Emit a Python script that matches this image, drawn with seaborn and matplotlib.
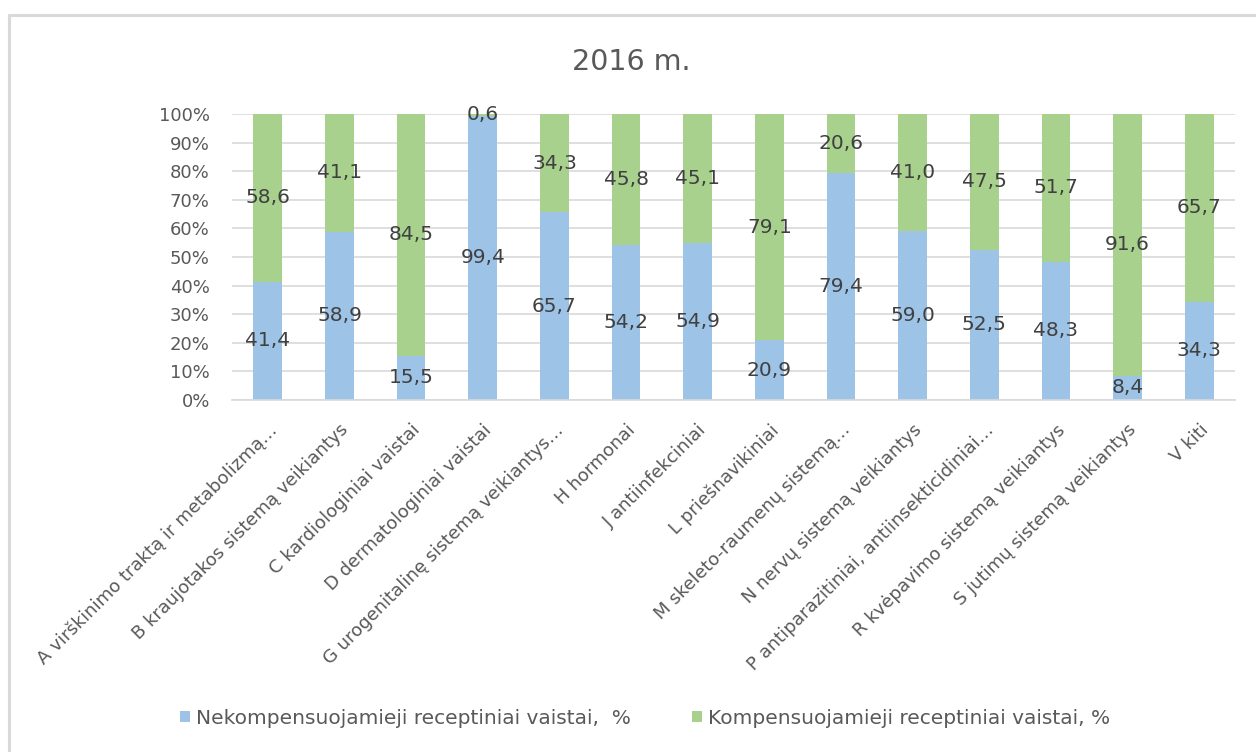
import matplotlib
matplotlib.use("Agg")
import matplotlib.pyplot as plt
import seaborn as sns
import pandas as pd
from matplotlib.patches import Patch
from matplotlib.lines import Line2D

categories = [
    "A virškinimo traktą ir metabolizmą…",
    "B kraujotakos sistemą veikiantys",
    "C kardiologiniai vaistai",
    "D dermatologiniai vaistai",
    "G urogenitalinę sistemą veikiantys…",
    "H hormonai",
    "J antiinfekciniai",
    "L priešnavikiniai",
    "M skeleto-raumenų sistemą…",
    "N nervų sistemą veikiantys",
    "P antiparazitiniai, antiinsekticidiniai…",
    "R kvėpavimo sistemą veikiantys",
    "S jutimų sistemą veikiantys",
    "V kiti",
]
nekomp = [41.4, 58.9, 15.5, 99.4, 65.7, 54.2, 54.9, 20.9, 79.4, 59.0, 52.5, 48.3, 8.4, 34.3]
komp = [58.6, 41.1, 84.5, 0.6, 34.3, 45.8, 45.1, 79.1, 20.6, 41.0, 47.5, 51.7, 91.6, 65.7]
title = "2016 m."
legend_labels = ["Nekompensuojamieji receptiniai vaistai,  %",
                 "Kompensuojamieji receptiniai vaistai, %"]
y_ticks = [0, 10, 20, 30, 40, 50, 60, 70, 80, 90, 100]

BLUE = "#9dc3e6"
GREEN = "#a9d18e"
GRID = "#d9d9d9"
TXT = "#595959"
LBL = "#404040"

sns.set_style("white")
plt.rcParams["font.family"] = ["DejaVu Sans"]

df = pd.DataFrame({"cat": categories, "nekomp": nekomp, "komp": komp})
df["total"] = df["nekomp"] + df["komp"]

W, H = 1256, 752
fig = plt.figure(figsize=(W / 100, H / 100), dpi=100)
ax = fig.add_axes([232 / W, 1 - 400 / H, 1003 / W, 286 / H])

sns.barplot(data=df, x="cat", y="total", color=GREEN, width=0.4,
            saturation=1, linewidth=0, ax=ax)
sns.barplot(data=df, x="cat", y="nekomp", color=BLUE, width=0.4,
            saturation=1, linewidth=0, ax=ax)

fmt = lambda v: f"{v:.1f}".replace(".", ",")
for i, (n, k) in enumerate(zip(nekomp, komp)):
    ax.text(i, n / 2, fmt(n), ha="center", va="center", fontsize=14.5, color=LBL)
    ax.text(i, n + k / 2, fmt(k), ha="center", va="center", fontsize=14.5, color=LBL)

ax.set_xlim(-0.5, len(categories) - 0.5)
ax.set_ylim(0, 100)
ax.set_yticks(y_ticks)
ax.set_yticklabels([f"{t}%" for t in y_ticks], fontsize=13, color=TXT)
ax.set_xticks(range(len(categories)))
ax.set_xticklabels(categories, rotation=45, ha="right", rotation_mode="anchor",
                   fontsize=13, color=TXT)
ax.tick_params(axis="both", length=0)
ax.tick_params(axis="y", pad=16)
ax.tick_params(axis="x", pad=15)
ax.set_xlabel("")
ax.set_ylabel("")
ax.yaxis.grid(True, color=GRID, linewidth=1.2)
ax.set_axisbelow(True)
for s in ["top", "right", "left"]:
    ax.spines[s].set_visible(False)
ax.spines["bottom"].set_color(GRID)
ax.spines["bottom"].set_linewidth(1.2)

fig.text(0.503, 1 - 62 / H, title, ha="center", va="center", fontsize=20.5, color=TXT)

handles = [Patch(facecolor=BLUE, edgecolor="none"), Patch(facecolor=GREEN, edgecolor="none")]
fig.legend(handles, legend_labels, loc="center", bbox_to_anchor=(645 / W, 1 - 718 / H),
           ncol=2, frameon=False, handlelength=0.5, handleheight=0.5,
           handletextpad=0.3, columnspacing=3.0, fontsize=14.5, labelcolor=TXT)

# chart border
fig.add_artist(Line2D([9 / W, 9 / W], [0, 1 - 15 / H], color=GRID, lw=2.2,
                      transform=fig.transFigure))
fig.add_artist(Line2D([9 / W, 1], [1 - 15 / H, 1 - 15 / H], color=GRID, lw=2.2,
                      transform=fig.transFigure))

fig.savefig("out.png", dpi=100, facecolor="white")
